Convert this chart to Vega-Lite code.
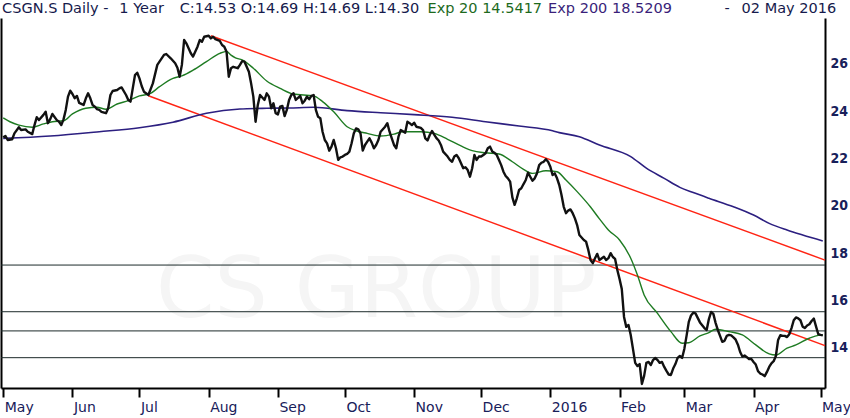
{
  "$schema": "https://vega.github.io/schema/vega-lite/v6.json",
  "width": 824,
  "height": 370,
  "autosize": {"type": "none"},
  "padding": {"left": 1, "top": 18, "right": 25, "bottom": 30},
  "background": "white",
  "config": {
    "view": {"stroke": null},
    "font": "DejaVu Sans",
    "axis": {
      "grid": false,
      "title": null,
      "labelFont": "DejaVu Sans",
      "labelFontSize": 14,
      "labelColor": "#18205a",
      "domainColor": "#000000",
      "domainWidth": 2,
      "tickColor": "#000000"
    },
    "text": {"font": "DejaVu Sans", "fontSize": 14.5, "baseline": "middle", "align": "left"}
  },
  "resolve": {"axis": {"x": "independent", "y": "independent"}},
  "layer": [
    {
      "data": {"values": [{"label": "CS GROUP"}]},
      "mark": {"type": "text", "align": "center", "fontSize": 84, "color": "#f5f5f5"},
      "encoding": {
        "x": {"datum": {"year": 2015, "month": 10, "date": 15}, "type": "temporal", "axis": null},
        "y": {"datum": 16.36, "type": "quantitative", "axis": null},
        "text": {"field": "label"}
      }
    },
    {
      "resolve": {"axis": {"x": "independent", "y": "independent"}},
      "encoding": {
        "x": {
          "field": "date",
          "type": "temporal",
          "scale": {"domain": [{"year": 2015, "month": 4, "date": 30}, {"year": 2016, "month": 5, "date": 3}]},
          "axis": null
        },
        "y": {
          "field": "value",
          "type": "quantitative",
          "scale": {"domain": [12.31, 27.93], "nice": false, "zero": false},
          "axis": null
        }
      },
      "layer": [
        {
          "data": {
            "values": [
              {"level": "17.50", "date": "2015-04-30", "value": 17.5},
              {"level": "17.50", "date": "2016-05-03", "value": 17.5},
              {"level": "15.53", "date": "2015-04-30", "value": 15.53},
              {"level": "15.53", "date": "2016-05-03", "value": 15.53},
              {"level": "14.72", "date": "2015-04-30", "value": 14.72},
              {"level": "14.72", "date": "2016-05-03", "value": 14.72},
              {"level": "13.59", "date": "2015-04-30", "value": 13.59},
              {"level": "13.59", "date": "2016-05-03", "value": 13.59}
            ],
            "format": {"parse": {"date": "date:'%Y-%m-%d'"}}
          },
          "mark": {"type": "line", "color": "#1c2a2a", "strokeWidth": 1},
          "encoding": {
            "detail": {"field": "level"},
            "y": {
              "field": "value",
              "type": "quantitative",
              "scale": {"domain": [12.31, 27.93], "nice": false, "zero": false},
              "axis": {"orient": "left", "labels": false, "ticks": false, "domain": true}
            }
          }
        },
        {
          "data": {
            "values": [
              {"line": "upper", "date": "2015-08-02", "value": 27.18},
              {"line": "upper", "date": "2016-05-03", "value": 17.71},
              {"line": "lower", "date": "2015-07-05", "value": 24.65},
              {"line": "lower", "date": "2016-05-03", "value": 14.1}
            ],
            "format": {"parse": {"date": "date:'%Y-%m-%d'"}}
          },
          "mark": {"type": "line", "color": "#ff2414", "strokeWidth": 1.5},
          "encoding": {"detail": {"field": "line"}}
        },
        {
          "data": {
            "values": [
              {"date": "2015-05-01", "value": 22.85},
              {"date": "2015-05-22", "value": 22.95},
              {"date": "2015-06-13", "value": 23.13},
              {"date": "2015-07-01", "value": 23.3},
              {"date": "2015-07-16", "value": 23.53},
              {"date": "2015-07-31", "value": 23.91},
              {"date": "2015-08-15", "value": 24.09},
              {"date": "2015-08-27", "value": 24.12},
              {"date": "2015-09-06", "value": 24.13},
              {"date": "2015-09-17", "value": 24.16},
              {"date": "2015-10-02", "value": 24.02},
              {"date": "2015-10-17", "value": 23.93},
              {"date": "2015-11-01", "value": 23.85},
              {"date": "2015-11-18", "value": 23.74},
              {"date": "2015-12-03", "value": 23.55},
              {"date": "2015-12-18", "value": 23.37},
              {"date": "2016-01-02", "value": 23.17},
              {"date": "2016-01-05", "value": 23.09},
              {"date": "2016-01-14", "value": 22.92},
              {"date": "2016-01-23", "value": 22.57},
              {"date": "2016-02-06", "value": 22.08},
              {"date": "2016-02-13", "value": 21.59},
              {"date": "2016-02-21", "value": 21.16},
              {"date": "2016-02-28", "value": 20.78},
              {"date": "2016-03-05", "value": 20.56},
              {"date": "2016-03-12", "value": 20.32},
              {"date": "2016-03-23", "value": 19.96},
              {"date": "2016-04-01", "value": 19.61},
              {"date": "2016-04-08", "value": 19.26},
              {"date": "2016-04-16", "value": 18.98},
              {"date": "2016-04-23", "value": 18.77},
              {"date": "2016-05-02", "value": 18.52}
            ],
            "format": {"parse": {"date": "date:'%Y-%m-%d'"}}
          },
          "mark": {"type": "line", "color": "#2c1f80", "strokeWidth": 1.6, "interpolate": "monotone"}
        },
        {
          "data": {
            "values": [
              {"date": "2015-05-01", "value": 23.71},
              {"date": "2015-05-04", "value": 23.55},
              {"date": "2015-05-08", "value": 23.41},
              {"date": "2015-05-14", "value": 23.32},
              {"date": "2015-05-19", "value": 23.46},
              {"date": "2015-05-23", "value": 23.55},
              {"date": "2015-05-28", "value": 23.59},
              {"date": "2015-06-01", "value": 23.88},
              {"date": "2015-06-07", "value": 24.12},
              {"date": "2015-06-12", "value": 24.16},
              {"date": "2015-06-16", "value": 24.08},
              {"date": "2015-06-21", "value": 24.3},
              {"date": "2015-06-26", "value": 24.44},
              {"date": "2015-07-01", "value": 24.64},
              {"date": "2015-07-06", "value": 24.75},
              {"date": "2015-07-10", "value": 25.03},
              {"date": "2015-07-16", "value": 25.38},
              {"date": "2015-07-20", "value": 25.49},
              {"date": "2015-07-25", "value": 25.73},
              {"date": "2015-07-31", "value": 26.09},
              {"date": "2015-08-06", "value": 26.44},
              {"date": "2015-08-09", "value": 26.52},
              {"date": "2015-08-11", "value": 26.36},
              {"date": "2015-08-13", "value": 26.25},
              {"date": "2015-08-16", "value": 26.16},
              {"date": "2015-08-21", "value": 25.81},
              {"date": "2015-08-27", "value": 25.27},
              {"date": "2015-09-02", "value": 24.96},
              {"date": "2015-09-08", "value": 24.72},
              {"date": "2015-09-17", "value": 24.64},
              {"date": "2015-09-21", "value": 24.4},
              {"date": "2015-09-26", "value": 23.97},
              {"date": "2015-10-02", "value": 23.34},
              {"date": "2015-10-06", "value": 23.17},
              {"date": "2015-10-11", "value": 23.06},
              {"date": "2015-10-17", "value": 22.95},
              {"date": "2015-10-23", "value": 23.03},
              {"date": "2015-10-27", "value": 23.13},
              {"date": "2015-11-04", "value": 23.13},
              {"date": "2015-11-10", "value": 23.06},
              {"date": "2015-11-16", "value": 22.81},
              {"date": "2015-11-22", "value": 22.53},
              {"date": "2015-11-27", "value": 22.33},
              {"date": "2015-12-03", "value": 22.24},
              {"date": "2015-12-09", "value": 22.19},
              {"date": "2015-12-15", "value": 21.86},
              {"date": "2015-12-20", "value": 21.54},
              {"date": "2015-12-24", "value": 21.37},
              {"date": "2015-12-30", "value": 21.48},
              {"date": "2016-01-04", "value": 21.44},
              {"date": "2016-01-08", "value": 21.09},
              {"date": "2016-01-13", "value": 20.6},
              {"date": "2016-01-19", "value": 19.95},
              {"date": "2016-01-23", "value": 19.45},
              {"date": "2016-01-27", "value": 18.98},
              {"date": "2016-02-01", "value": 18.56},
              {"date": "2016-02-06", "value": 17.79},
              {"date": "2016-02-09", "value": 17.08},
              {"date": "2016-02-12", "value": 16.24},
              {"date": "2016-02-18", "value": 15.46},
              {"date": "2016-02-24", "value": 14.69},
              {"date": "2016-02-29", "value": 14.2},
              {"date": "2016-03-03", "value": 14.22},
              {"date": "2016-03-08", "value": 14.51},
              {"date": "2016-03-12", "value": 14.65},
              {"date": "2016-03-15", "value": 14.79},
              {"date": "2016-03-21", "value": 14.69},
              {"date": "2016-03-27", "value": 14.55},
              {"date": "2016-04-02", "value": 14.13},
              {"date": "2016-04-08", "value": 13.75},
              {"date": "2016-04-11", "value": 13.7},
              {"date": "2016-04-16", "value": 13.99},
              {"date": "2016-04-20", "value": 14.13},
              {"date": "2016-04-26", "value": 14.41},
              {"date": "2016-04-30", "value": 14.53},
              {"date": "2016-05-02", "value": 14.54}
            ],
            "format": {"parse": {"date": "date:'%Y-%m-%d'"}}
          },
          "mark": {"type": "line", "color": "#1e7b22", "strokeWidth": 1.4, "interpolate": "monotone"}
        },
        {
          "data": {
            "values": [
              {"date": "2015-05-01", "value": 22.89},
              {"date": "2015-05-02", "value": 22.95},
              {"date": "2015-05-03", "value": 22.78},
              {"date": "2015-05-05", "value": 22.81},
              {"date": "2015-05-06", "value": 23.06},
              {"date": "2015-05-08", "value": 23.32},
              {"date": "2015-05-09", "value": 23.2},
              {"date": "2015-05-11", "value": 23.23},
              {"date": "2015-05-12", "value": 23.13},
              {"date": "2015-05-14", "value": 23.03},
              {"date": "2015-05-15", "value": 23.41},
              {"date": "2015-05-16", "value": 23.74},
              {"date": "2015-05-17", "value": 23.62},
              {"date": "2015-05-19", "value": 23.84},
              {"date": "2015-05-20", "value": 23.97},
              {"date": "2015-05-21", "value": 23.49},
              {"date": "2015-05-22", "value": 23.65},
              {"date": "2015-05-23", "value": 23.88},
              {"date": "2015-05-25", "value": 23.62},
              {"date": "2015-05-26", "value": 23.55},
              {"date": "2015-05-27", "value": 23.41},
              {"date": "2015-05-28", "value": 23.65},
              {"date": "2015-05-29", "value": 24.05},
              {"date": "2015-05-30", "value": 24.61},
              {"date": "2015-05-31", "value": 24.86},
              {"date": "2015-06-01", "value": 24.72},
              {"date": "2015-06-02", "value": 24.54},
              {"date": "2015-06-03", "value": 24.64},
              {"date": "2015-06-04", "value": 24.35},
              {"date": "2015-06-06", "value": 24.26},
              {"date": "2015-06-07", "value": 24.54},
              {"date": "2015-06-08", "value": 24.75},
              {"date": "2015-06-09", "value": 24.54},
              {"date": "2015-06-10", "value": 24.26},
              {"date": "2015-06-11", "value": 24.19},
              {"date": "2015-06-12", "value": 24.08},
              {"date": "2015-06-13", "value": 24.05},
              {"date": "2015-06-14", "value": 23.97},
              {"date": "2015-06-16", "value": 23.91},
              {"date": "2015-06-17", "value": 24.12},
              {"date": "2015-06-18", "value": 24.68},
              {"date": "2015-06-19", "value": 24.85},
              {"date": "2015-06-21", "value": 24.89},
              {"date": "2015-06-22", "value": 24.96},
              {"date": "2015-06-23", "value": 25.0},
              {"date": "2015-06-25", "value": 24.68},
              {"date": "2015-06-26", "value": 24.47},
              {"date": "2015-06-27", "value": 24.4},
              {"date": "2015-06-28", "value": 24.96},
              {"date": "2015-06-29", "value": 25.52},
              {"date": "2015-06-30", "value": 25.62},
              {"date": "2015-07-01", "value": 25.38},
              {"date": "2015-07-02", "value": 25.06},
              {"date": "2015-07-03", "value": 24.82},
              {"date": "2015-07-05", "value": 24.68},
              {"date": "2015-07-07", "value": 25.17},
              {"date": "2015-07-09", "value": 25.95},
              {"date": "2015-07-12", "value": 26.37},
              {"date": "2015-07-13", "value": 26.41},
              {"date": "2015-07-15", "value": 26.23},
              {"date": "2015-07-17", "value": 26.02},
              {"date": "2015-07-18", "value": 25.83},
              {"date": "2015-07-19", "value": 25.45},
              {"date": "2015-07-20", "value": 25.95},
              {"date": "2015-07-21", "value": 27.0},
              {"date": "2015-07-22", "value": 26.86},
              {"date": "2015-07-24", "value": 26.44},
              {"date": "2015-07-25", "value": 26.3},
              {"date": "2015-07-27", "value": 26.72},
              {"date": "2015-07-28", "value": 27.0},
              {"date": "2015-07-29", "value": 26.93},
              {"date": "2015-07-30", "value": 27.14},
              {"date": "2015-08-01", "value": 27.18},
              {"date": "2015-08-02", "value": 27.07},
              {"date": "2015-08-03", "value": 27.14},
              {"date": "2015-08-04", "value": 27.04},
              {"date": "2015-08-06", "value": 26.96},
              {"date": "2015-08-07", "value": 26.79},
              {"date": "2015-08-08", "value": 26.72},
              {"date": "2015-08-09", "value": 26.51},
              {"date": "2015-08-10", "value": 25.45},
              {"date": "2015-08-11", "value": 25.81},
              {"date": "2015-08-12", "value": 25.87},
              {"date": "2015-08-14", "value": 25.81},
              {"date": "2015-08-15", "value": 25.95},
              {"date": "2015-08-16", "value": 26.11},
              {"date": "2015-08-17", "value": 26.09},
              {"date": "2015-08-19", "value": 25.66},
              {"date": "2015-08-20", "value": 25.17},
              {"date": "2015-08-21", "value": 24.61},
              {"date": "2015-08-22", "value": 23.55},
              {"date": "2015-08-23", "value": 24.26},
              {"date": "2015-08-24", "value": 24.68},
              {"date": "2015-08-26", "value": 24.47},
              {"date": "2015-08-27", "value": 24.75},
              {"date": "2015-08-28", "value": 24.61},
              {"date": "2015-08-29", "value": 24.12},
              {"date": "2015-08-30", "value": 24.33},
              {"date": "2015-08-31", "value": 23.91},
              {"date": "2015-09-01", "value": 23.86},
              {"date": "2015-09-02", "value": 24.19},
              {"date": "2015-09-03", "value": 24.22},
              {"date": "2015-09-04", "value": 23.79},
              {"date": "2015-09-05", "value": 24.05},
              {"date": "2015-09-06", "value": 24.47},
              {"date": "2015-09-07", "value": 24.68},
              {"date": "2015-09-08", "value": 24.75},
              {"date": "2015-09-09", "value": 24.47},
              {"date": "2015-09-11", "value": 24.64},
              {"date": "2015-09-12", "value": 24.33},
              {"date": "2015-09-13", "value": 24.44},
              {"date": "2015-09-14", "value": 24.61},
              {"date": "2015-09-15", "value": 24.5},
              {"date": "2015-09-16", "value": 24.64},
              {"date": "2015-09-17", "value": 24.68},
              {"date": "2015-09-18", "value": 24.05},
              {"date": "2015-09-19", "value": 23.76},
              {"date": "2015-09-20", "value": 23.7},
              {"date": "2015-09-21", "value": 23.13},
              {"date": "2015-09-22", "value": 22.78},
              {"date": "2015-09-23", "value": 22.64},
              {"date": "2015-09-24", "value": 22.33},
              {"date": "2015-09-25", "value": 22.5},
              {"date": "2015-09-26", "value": 22.78},
              {"date": "2015-09-27", "value": 22.43},
              {"date": "2015-09-28", "value": 21.94},
              {"date": "2015-09-29", "value": 22.05},
              {"date": "2015-09-30", "value": 22.08},
              {"date": "2015-10-01", "value": 22.15},
              {"date": "2015-10-02", "value": 22.19},
              {"date": "2015-10-03", "value": 22.29},
              {"date": "2015-10-04", "value": 22.64},
              {"date": "2015-10-05", "value": 23.06},
              {"date": "2015-10-06", "value": 23.27},
              {"date": "2015-10-07", "value": 23.23},
              {"date": "2015-10-08", "value": 23.06},
              {"date": "2015-10-09", "value": 22.33},
              {"date": "2015-10-10", "value": 22.57},
              {"date": "2015-10-11", "value": 22.71},
              {"date": "2015-10-12", "value": 22.85},
              {"date": "2015-10-13", "value": 22.67},
              {"date": "2015-10-14", "value": 22.43},
              {"date": "2015-10-15", "value": 22.57},
              {"date": "2015-10-16", "value": 22.78},
              {"date": "2015-10-17", "value": 23.13},
              {"date": "2015-10-19", "value": 23.34},
              {"date": "2015-10-20", "value": 23.49},
              {"date": "2015-10-21", "value": 23.13},
              {"date": "2015-10-22", "value": 22.85},
              {"date": "2015-10-23", "value": 22.57},
              {"date": "2015-10-24", "value": 22.43},
              {"date": "2015-10-25", "value": 22.92},
              {"date": "2015-10-26", "value": 23.2},
              {"date": "2015-10-28", "value": 23.09},
              {"date": "2015-10-29", "value": 23.55},
              {"date": "2015-10-30", "value": 23.49},
              {"date": "2015-10-31", "value": 23.41},
              {"date": "2015-11-01", "value": 23.51},
              {"date": "2015-11-02", "value": 23.34},
              {"date": "2015-11-04", "value": 23.29},
              {"date": "2015-11-05", "value": 23.2},
              {"date": "2015-11-06", "value": 22.85},
              {"date": "2015-11-07", "value": 22.76},
              {"date": "2015-11-08", "value": 22.99},
              {"date": "2015-11-09", "value": 23.16},
              {"date": "2015-11-10", "value": 23.01},
              {"date": "2015-11-11", "value": 22.86},
              {"date": "2015-11-12", "value": 22.76},
              {"date": "2015-11-13", "value": 22.57},
              {"date": "2015-11-14", "value": 22.29},
              {"date": "2015-11-16", "value": 22.08},
              {"date": "2015-11-17", "value": 21.94},
              {"date": "2015-11-18", "value": 21.86},
              {"date": "2015-11-19", "value": 22.08},
              {"date": "2015-11-20", "value": 22.15},
              {"date": "2015-11-21", "value": 22.01},
              {"date": "2015-11-22", "value": 21.8},
              {"date": "2015-11-23", "value": 21.59},
              {"date": "2015-11-24", "value": 21.63},
              {"date": "2015-11-25", "value": 21.51},
              {"date": "2015-11-26", "value": 21.23},
              {"date": "2015-11-27", "value": 21.59},
              {"date": "2015-11-28", "value": 22.15},
              {"date": "2015-11-29", "value": 21.94},
              {"date": "2015-11-30", "value": 22.08},
              {"date": "2015-12-01", "value": 22.08},
              {"date": "2015-12-02", "value": 22.15},
              {"date": "2015-12-03", "value": 22.22},
              {"date": "2015-12-04", "value": 22.43},
              {"date": "2015-12-05", "value": 22.5},
              {"date": "2015-12-06", "value": 22.29},
              {"date": "2015-12-07", "value": 22.24},
              {"date": "2015-12-08", "value": 22.15},
              {"date": "2015-12-09", "value": 21.94},
              {"date": "2015-12-10", "value": 21.72},
              {"date": "2015-12-11", "value": 21.44},
              {"date": "2015-12-12", "value": 21.26},
              {"date": "2015-12-13", "value": 21.16},
              {"date": "2015-12-14", "value": 21.02},
              {"date": "2015-12-15", "value": 20.36},
              {"date": "2015-12-16", "value": 20.04},
              {"date": "2015-12-17", "value": 20.32},
              {"date": "2015-12-18", "value": 20.67},
              {"date": "2015-12-19", "value": 20.74},
              {"date": "2015-12-20", "value": 20.92},
              {"date": "2015-12-21", "value": 21.09},
              {"date": "2015-12-22", "value": 21.4},
              {"date": "2015-12-23", "value": 21.23},
              {"date": "2015-12-24", "value": 21.06},
              {"date": "2015-12-25", "value": 21.16},
              {"date": "2015-12-26", "value": 21.37},
              {"date": "2015-12-27", "value": 21.72},
              {"date": "2015-12-28", "value": 21.82},
              {"date": "2015-12-29", "value": 21.86},
              {"date": "2015-12-30", "value": 21.97},
              {"date": "2015-12-31", "value": 21.86},
              {"date": "2016-01-01", "value": 21.65},
              {"date": "2016-01-02", "value": 21.3},
              {"date": "2016-01-03", "value": 21.37},
              {"date": "2016-01-04", "value": 21.16},
              {"date": "2016-01-05", "value": 20.88},
              {"date": "2016-01-06", "value": 20.46},
              {"date": "2016-01-07", "value": 19.96},
              {"date": "2016-01-08", "value": 19.69},
              {"date": "2016-01-09", "value": 19.8},
              {"date": "2016-01-10", "value": 19.85},
              {"date": "2016-01-11", "value": 19.69},
              {"date": "2016-01-12", "value": 19.47},
              {"date": "2016-01-13", "value": 19.19},
              {"date": "2016-01-14", "value": 18.77},
              {"date": "2016-01-16", "value": 18.56},
              {"date": "2016-01-17", "value": 18.49},
              {"date": "2016-01-18", "value": 18.14},
              {"date": "2016-01-19", "value": 17.71},
              {"date": "2016-01-20", "value": 17.58},
              {"date": "2016-01-21", "value": 17.79},
              {"date": "2016-01-22", "value": 17.97},
              {"date": "2016-01-23", "value": 17.71},
              {"date": "2016-01-25", "value": 17.85},
              {"date": "2016-01-26", "value": 17.71},
              {"date": "2016-01-27", "value": 17.79},
              {"date": "2016-01-28", "value": 18.0},
              {"date": "2016-01-29", "value": 17.84},
              {"date": "2016-01-30", "value": 17.76},
              {"date": "2016-01-31", "value": 17.29},
              {"date": "2016-02-01", "value": 16.91},
              {"date": "2016-02-02", "value": 16.49},
              {"date": "2016-02-03", "value": 15.31},
              {"date": "2016-02-04", "value": 14.89},
              {"date": "2016-02-05", "value": 14.97},
              {"date": "2016-02-06", "value": 14.55},
              {"date": "2016-02-07", "value": 13.96},
              {"date": "2016-02-08", "value": 13.37},
              {"date": "2016-02-09", "value": 13.24},
              {"date": "2016-02-10", "value": 13.32},
              {"date": "2016-02-11", "value": 12.48},
              {"date": "2016-02-12", "value": 12.82},
              {"date": "2016-02-13", "value": 13.37},
              {"date": "2016-02-14", "value": 13.41},
              {"date": "2016-02-15", "value": 13.28},
              {"date": "2016-02-16", "value": 13.49},
              {"date": "2016-02-17", "value": 13.58},
              {"date": "2016-02-18", "value": 13.49},
              {"date": "2016-02-19", "value": 13.37},
              {"date": "2016-02-20", "value": 13.41},
              {"date": "2016-02-21", "value": 13.2},
              {"date": "2016-02-22", "value": 13.03},
              {"date": "2016-02-23", "value": 12.88},
              {"date": "2016-02-24", "value": 12.86},
              {"date": "2016-02-25", "value": 13.13},
              {"date": "2016-02-26", "value": 13.32},
              {"date": "2016-02-27", "value": 13.58},
              {"date": "2016-02-28", "value": 13.66},
              {"date": "2016-02-29", "value": 13.58},
              {"date": "2016-03-01", "value": 13.96},
              {"date": "2016-03-02", "value": 14.51},
              {"date": "2016-03-03", "value": 15.1},
              {"date": "2016-03-04", "value": 15.37},
              {"date": "2016-03-05", "value": 15.49},
              {"date": "2016-03-06", "value": 15.46},
              {"date": "2016-03-07", "value": 15.27},
              {"date": "2016-03-08", "value": 15.08},
              {"date": "2016-03-09", "value": 14.96},
              {"date": "2016-03-10", "value": 14.84},
              {"date": "2016-03-11", "value": 14.76},
              {"date": "2016-03-12", "value": 15.22},
              {"date": "2016-03-13", "value": 15.52},
              {"date": "2016-03-14", "value": 15.44},
              {"date": "2016-03-15", "value": 15.06},
              {"date": "2016-03-16", "value": 14.76},
              {"date": "2016-03-17", "value": 14.51},
              {"date": "2016-03-18", "value": 14.26},
              {"date": "2016-03-19", "value": 14.3},
              {"date": "2016-03-20", "value": 14.51},
              {"date": "2016-03-21", "value": 14.55},
              {"date": "2016-03-22", "value": 14.53},
              {"date": "2016-03-23", "value": 14.45},
              {"date": "2016-03-24", "value": 14.35},
              {"date": "2016-03-25", "value": 14.14},
              {"date": "2016-03-26", "value": 13.83},
              {"date": "2016-03-27", "value": 13.64},
              {"date": "2016-03-28", "value": 13.68},
              {"date": "2016-03-29", "value": 13.61},
              {"date": "2016-03-30", "value": 13.53},
              {"date": "2016-03-31", "value": 13.54},
              {"date": "2016-04-01", "value": 13.41},
              {"date": "2016-04-02", "value": 13.3},
              {"date": "2016-04-03", "value": 13.02},
              {"date": "2016-04-04", "value": 12.92},
              {"date": "2016-04-05", "value": 12.88},
              {"date": "2016-04-06", "value": 12.81},
              {"date": "2016-04-07", "value": 12.99},
              {"date": "2016-04-08", "value": 13.2},
              {"date": "2016-04-09", "value": 13.35},
              {"date": "2016-04-10", "value": 13.44},
              {"date": "2016-04-11", "value": 13.66},
              {"date": "2016-04-12", "value": 14.34},
              {"date": "2016-04-13", "value": 14.54},
              {"date": "2016-04-14", "value": 14.51},
              {"date": "2016-04-15", "value": 14.51},
              {"date": "2016-04-16", "value": 14.46},
              {"date": "2016-04-17", "value": 14.58},
              {"date": "2016-04-18", "value": 14.84},
              {"date": "2016-04-19", "value": 15.17},
              {"date": "2016-04-20", "value": 15.29},
              {"date": "2016-04-21", "value": 15.25},
              {"date": "2016-04-22", "value": 15.17},
              {"date": "2016-04-23", "value": 14.9},
              {"date": "2016-04-24", "value": 14.84},
              {"date": "2016-04-25", "value": 14.95},
              {"date": "2016-04-26", "value": 15.0},
              {"date": "2016-04-27", "value": 15.14},
              {"date": "2016-04-28", "value": 15.24},
              {"date": "2016-04-29", "value": 14.9},
              {"date": "2016-04-30", "value": 14.58},
              {"date": "2016-05-01", "value": 14.55},
              {"date": "2016-05-02", "value": 14.53}
            ],
            "format": {"parse": {"date": "date:'%Y-%m-%d'"}}
          },
          "mark": {"type": "line", "color": "#111111", "strokeWidth": 2.4, "strokeJoin": "round"},
          "encoding": {
            "x": {
              "field": "date",
              "type": "temporal",
              "scale": {"domain": [{"year": 2015, "month": 4, "date": 30}, {"year": 2016, "month": 5, "date": 3}]},
              "axis": {
                "orient": "bottom",
                "tickCount": {"interval": "month", "step": 1},
                "labelExpr": "month(datum.value) == 0 ? timeFormat(datum.value, '%Y') : timeFormat(datum.value, '%b')",
                "labelAlign": "left",
                "labelBaseline": "top",
                "labelPadding": 3,
                "labelOffset": 1,
                "labelFlush": false,
                "labelOverlap": false,
                "tickSize": 9,
                "tickWidth": 2
              }
            },
            "y": {
              "field": "value",
              "type": "quantitative",
              "scale": {"domain": [12.31, 27.93], "nice": false, "zero": false},
              "axis": {
                "orient": "right",
                "values": [14, 16, 18, 20, 22, 24, 26],
                "ticks": false,
                "labelPadding": 5,
                "labelFont": "DejaVu Sans Condensed, DejaVu Sans",
                "labelFontWeight": "bold",
                "labelBaseline": "middle"
              }
            }
          }
        }
      ]
    },
    {
      "data": {"values": [{"label": "CSGN.S Daily -"}]},
      "mark": {"type": "text", "color": "#161a4c"},
      "encoding": {
        "x": {"datum": {"year": 2015, "month": 4, "date": 30, "hours": 12}, "type": "temporal", "axis": null},
        "y": {"datum": 28.31, "type": "quantitative", "axis": null},
        "text": {"field": "label"}
      }
    },
    {
      "data": {"values": [{"label": "1 Year"}]},
      "mark": {"type": "text", "color": "#161a4c"},
      "encoding": {
        "x": {"datum": {"year": 2015, "month": 6, "date": 22}, "type": "temporal", "axis": null},
        "y": {"datum": 28.31, "type": "quantitative", "axis": null},
        "text": {"field": "label"}
      }
    },
    {
      "data": {"values": [{"label": "C:14.53 O:14.69 H:14.69 L:14.30"}]},
      "mark": {"type": "text", "color": "#161a4c"},
      "encoding": {
        "x": {"datum": {"year": 2015, "month": 7, "date": 19}, "type": "temporal", "axis": null},
        "y": {"datum": 28.31, "type": "quantitative", "axis": null},
        "text": {"field": "label"}
      }
    },
    {
      "data": {"values": [{"label": "Exp 20 14.5417"}]},
      "mark": {"type": "text", "color": "#1d6a1d"},
      "encoding": {
        "x": {"datum": {"year": 2015, "month": 11, "date": 7}, "type": "temporal", "axis": null},
        "y": {"datum": 28.31, "type": "quantitative", "axis": null},
        "text": {"field": "label"}
      }
    },
    {
      "data": {"values": [{"label": "Exp 200 18.5209"}]},
      "mark": {"type": "text", "color": "#3a1f7a"},
      "encoding": {
        "x": {"datum": {"year": 2015, "month": 12, "date": 31}, "type": "temporal", "axis": null},
        "y": {"datum": 28.31, "type": "quantitative", "axis": null},
        "text": {"field": "label"}
      }
    },
    {
      "data": {"values": [{"label": "-"}]},
      "mark": {"type": "text", "color": "#161a4c"},
      "encoding": {
        "x": {"datum": {"year": 2016, "month": 3, "date": 19}, "type": "temporal", "axis": null},
        "y": {"datum": 28.31, "type": "quantitative", "axis": null},
        "text": {"field": "label"}
      }
    },
    {
      "data": {"values": [{"label": "02 May 2016"}]},
      "mark": {"type": "text", "align": "right", "color": "#161a4c"},
      "encoding": {
        "x": {"datum": {"year": 2016, "month": 5, "date": 8}, "type": "temporal", "axis": null},
        "y": {"datum": 28.31, "type": "quantitative", "axis": null},
        "text": {"field": "label"}
      }
    }
  ]
}
